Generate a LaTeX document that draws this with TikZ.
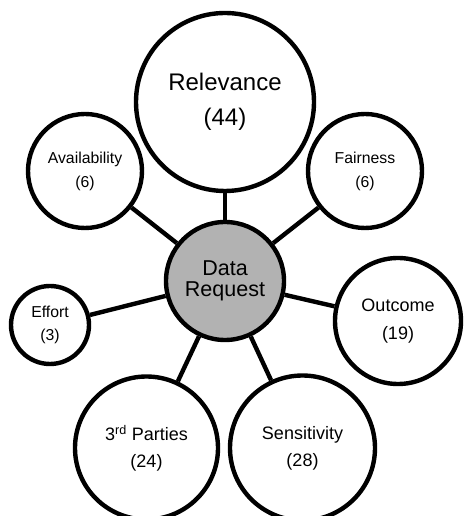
\documentclass[tikz,border=0pt]{standalone}
\usepackage{fontspec}
\setmainfont{Liberation Sans}
\begin{document}
\begin{tikzpicture}[x=1pt,y=1pt,line width=4.4pt,
    bubble/.style={draw,circle,fill=white,inner sep=0pt,align=center},
    hub/.style={bubble,fill=black!30}]
            \clip (0,0) rectangle (463,516);
            \useasboundingbox (0,0) rectangle (463,516);
            \node[hub,minimum size=118pt,font=\fontsize{21.5}{20.5}\selectfont] (D) at (225,235) {Data\\Request};
            \node[bubble,minimum size=178pt,font=\fontsize{24}{35}\selectfont] (R) at (225,414) {Relevance\\(44)};
            \node[bubble,minimum size=114pt,font=\fontsize{15.8}{24}\selectfont] (A) at (85,345) {Availability\\(6)};
            \node[bubble,minimum size=114pt,font=\fontsize{15.8}{24}\selectfont] (F) at (365,345) {Fairness\\(6)};
            \node[bubble,minimum size=78pt,font=\fontsize{15.8}{23}\selectfont] (E) at (50,191) {Effort\\(3)};
            \node[bubble,minimum size=126pt,font=\fontsize{18}{28}\selectfont] (O) at (398,195) {Outcome\\(19)};
            \node[bubble,minimum size=143pt,font=\fontsize{18}{27}\selectfont] (P) at (146.5,68) {3\textsuperscript{rd} Parties\\(24)};
            \node[bubble,minimum size=145pt,font=\fontsize{18}{27}\selectfont] (S) at (302.5,68) {Sensitivity\\(28)};
            \draw (D) to (R);
            \draw (D) to (A);
            \draw (D) to (F);
            \draw (D) to (E);
            \draw (D) to (O);
            \draw (D) to (P);
            \draw (D) to (S);
        \end{tikzpicture}
\end{document}
